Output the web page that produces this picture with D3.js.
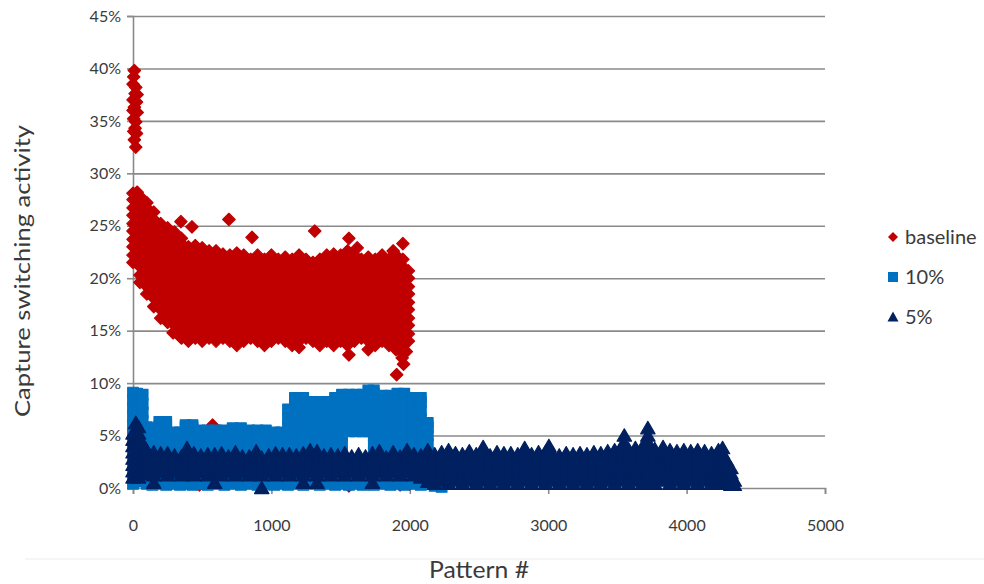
<!DOCTYPE html>
<html>
<head>
<meta charset="utf-8">
<script src="https://cdn.jsdelivr.net/npm/d3@7"></script>
<style>
  body { margin: 0; background: #fff; }
  svg { display: block; }
  text { font-family: Lato, "Open Sans", sans-serif; fill: #3a3a3a; }
</style>
</head>
<body>
<div id="chart"></div>
<script>
// tick labels
const yTicks = [0, 5, 10, 15, 20, 25, 30, 35, 40, 45];
const xTicks = [0, 1000, 2000, 3000, 4000, 5000];
const seriesNames = ["baseline", "10%", "5%"];

// values, one column per pattern # : [x, y1, y2, ...] (y in %)
const baselineCols = [
  [0, 21.5, 22.2, 23.0, 23.7, 24.5, 25.2, 26.0, 26.7, 27.5, 28.1],
  [50, 19.6, 20.3, 21.1, 21.8, 22.6, 23.3, 24.1, 24.8, 25.6, 26.3, 27.1, 27.8],
  [100, 18.5, 19.2, 20.0, 20.7, 21.5, 22.2, 23.0, 23.7, 24.5, 25.2, 26.0, 26.7, 27.2],
  [150, 17.3, 18.1, 18.8, 19.6, 20.3, 21.1, 21.8, 22.6, 23.3, 24.1, 24.8, 25.6, 26.3],
  [200, 16.2, 17.0, 17.7, 18.5, 19.2, 20.0, 20.7, 21.5, 22.2, 23.0, 23.7, 24.5, 25.2],
  [250, 15.8, 16.6, 17.3, 18.1, 18.8, 19.6, 20.3, 21.1, 21.8, 22.6, 23.3, 24.1, 24.8],
  [300, 15.5, 16.2, 17.0, 17.7, 18.5, 19.2, 20.0, 20.7, 21.5, 22.2, 23.0, 23.7, 24.4],
  [350, 14.3, 15.1, 15.8, 16.6, 17.3, 18.1, 18.8, 19.6, 20.3, 21.1, 21.8, 22.6, 23.3, 23.8],
  [400, 14.0, 14.7, 15.5, 16.2, 17.0, 17.7, 18.5, 19.2, 20.0, 20.7, 21.5, 22.2, 23.0],
  [450, 14.3, 15.1, 15.8, 16.6, 17.3, 18.1, 18.8, 19.6, 20.3, 21.1, 21.8, 22.6, 23.1],
  [500, 14.0, 14.7, 15.5, 16.2, 17.0, 17.7, 18.5, 19.2, 20.0, 20.7, 21.5, 22.2, 22.9],
  [550, 14.3, 15.1, 15.8, 16.6, 17.3, 18.1, 18.8, 19.6, 20.3, 21.1, 21.8, 22.6],
  [600, 14.0, 14.7, 15.5, 16.2, 17.0, 17.7, 18.5, 19.2, 20.0, 20.7, 21.5, 22.2, 22.6],
  [650, 14.3, 15.1, 15.8, 16.6, 17.3, 18.1, 18.8, 19.6, 20.3, 21.1, 21.8, 22.3],
  [700, 14.0, 14.7, 15.5, 16.2, 17.0, 17.7, 18.5, 19.2, 20.0, 20.7, 21.5, 22.2],
  [750, 13.6, 14.3, 15.1, 15.8, 16.6, 17.3, 18.1, 18.8, 19.6, 20.3, 21.1, 21.8, 22.4],
  [800, 14.0, 14.7, 15.5, 16.2, 17.0, 17.7, 18.5, 19.2, 20.0, 20.7, 21.5, 22.2],
  [850, 14.3, 15.1, 15.8, 16.6, 17.3, 18.1, 18.8, 19.6, 20.3, 21.1, 21.8],
  [900, 14.0, 14.7, 15.5, 16.2, 17.0, 17.7, 18.5, 19.2, 20.0, 20.7, 21.5, 22.2],
  [950, 13.6, 14.3, 15.1, 15.8, 16.6, 17.3, 18.1, 18.8, 19.6, 20.3, 21.1, 21.8],
  [1000, 14.0, 14.7, 15.5, 16.2, 17.0, 17.7, 18.5, 19.2, 20.0, 20.7, 21.5, 22.2],
  [1050, 14.3, 15.1, 15.8, 16.6, 17.3, 18.1, 18.8, 19.6, 20.3, 21.1, 21.8],
  [1100, 14.0, 14.7, 15.5, 16.2, 17.0, 17.7, 18.5, 19.2, 20.0, 20.7, 21.5, 22.0],
  [1150, 13.6, 14.3, 15.1, 15.8, 16.6, 17.3, 18.1, 18.8, 19.6, 20.3, 21.1, 21.8],
  [1200, 13.4, 14.0, 14.7, 15.5, 16.2, 17.0, 17.7, 18.5, 19.2, 20.0, 20.7, 21.5, 22.2],
  [1250, 14.3, 15.1, 15.8, 16.6, 17.3, 18.1, 18.8, 19.6, 20.3, 21.1, 21.8],
  [1300, 14.0, 14.7, 15.5, 16.2, 17.0, 17.7, 18.5, 19.2, 20.0, 20.7, 21.5],
  [1350, 13.6, 14.3, 15.1, 15.8, 16.6, 17.3, 18.1, 18.8, 19.6, 20.3, 21.1, 21.8],
  [1400, 14.0, 14.7, 15.5, 16.2, 17.0, 17.7, 18.5, 19.2, 20.0, 20.7, 21.5, 22.2],
  [1450, 13.6, 14.3, 15.1, 15.8, 16.6, 17.3, 18.1, 18.8, 19.6, 20.3, 21.1, 21.8, 22.3],
  [1500, 14.0, 14.7, 15.5, 16.2, 17.0, 17.7, 18.5, 19.2, 20.0, 20.7, 21.5, 22.2],
  [1550, 13.6, 14.3, 15.1, 15.8, 16.6, 17.3, 18.1, 18.8, 19.6, 20.3, 21.1, 21.8, 22.6],
  [1600, 14.0, 14.7, 15.5, 16.2, 17.0, 17.7, 18.5, 19.2, 20.0, 20.7, 21.5, 22.2],
  [1650, 14.3, 15.1, 15.8, 16.6, 17.3, 18.1, 18.8, 19.6, 20.3, 21.1, 21.8],
  [1700, 13.2, 14.0, 14.7, 15.5, 16.2, 17.0, 17.7, 18.5, 19.2, 20.0, 20.7, 21.5, 22.0],
  [1750, 13.6, 14.3, 15.1, 15.8, 16.6, 17.3, 18.1, 18.8, 19.6, 20.3, 21.1, 21.8],
  [1800, 14.0, 14.7, 15.5, 16.2, 17.0, 17.7, 18.5, 19.2, 20.0, 20.7, 21.5, 22.2],
  [1850, 13.6, 14.3, 15.1, 15.8, 16.6, 17.3, 18.1, 18.8, 19.6, 20.3, 21.1, 21.8],
  [1900, 13.2, 14.0, 14.7, 15.5, 16.2, 17.0, 17.7, 18.5, 19.2, 20.0, 20.7, 21.5, 22.2],
  [1950, 12.8, 13.6, 14.3, 15.1, 15.8, 16.6, 17.3, 18.1, 18.8, 19.6, 20.3, 21.1, 21.8],
  [1990, 14.0, 14.7, 15.5, 16.2, 17.0, 17.7, 18.5, 19.2, 20.0, 20.7]
];
// first patterns with high activity and scattered outliers
const baselinePoints = [
  [10, 39.8], [5, 39.2], [0, 38.5], [20, 38.2], [15, 37.6], [30, 37.5], [0, 37.0], [25, 36.8],
  [10, 36.3], [0, 36.0], [30, 35.8], [5, 35.2], [20, 34.9], [15, 34.3], [5, 34.0], [25, 33.8],
  [10, 33.2], [20, 32.5], [30, 28.2],
  [346, 25.4], [426, 24.9], [693, 25.6], [860, 23.9], [1313, 24.5], [1560, 23.8], [1620, 22.9],
  [1880, 22.6], [1950, 23.3], [290, 14.8], [1560, 12.7], [1905, 10.8], [1955, 11.8],
  [1945, 12.4], [1975, 13.0],
  [290, 0.6], [480, 0.3], [560, 0.6], [575, 6.0], [1560, 0.2], [1930, 0.3], [2000, 0.4]
];

const tenCols = [
  [0, 0.4, 1.2, 2.0, 2.8, 3.6, 4.4, 5.2, 6.0, 6.8, 7.6, 8.4, 9.1],
  [30, 0.6, 1.4, 2.2, 3.0, 3.8, 4.6, 5.4, 6.2, 7.0, 7.8, 8.6, 9.0],
  [70, 0.8, 1.6, 2.4, 3.2, 4.0, 4.8, 5.6, 6.4, 7.2, 8.0, 8.9],
  [100, 0.4, 1.2, 2.6, 3.4, 4.2, 5.0, 5.8],
  [140, 0.3, 1.1, 2.6, 3.4, 4.2, 5.0, 5.7],
  [190, 0.4, 1.2, 2.6, 3.5, 4.3, 5.1, 5.9, 6.3],
  [240, 0.3, 1.0, 2.6, 3.5, 4.4, 5.2, 6.0, 6.3],
  [290, 0.4, 1.2, 2.6, 3.4, 4.2, 5.0, 5.3],
  [340, 0.3, 1.1, 2.6, 3.4, 4.2, 5.0, 5.3],
  [380, 0.4, 1.2, 2.6, 3.4, 4.2, 5.0, 5.8, 6.0],
  [430, 0.3, 1.0, 2.6, 3.4, 4.2, 5.0, 5.8, 6.0],
  [480, 0.4, 1.2, 2.6, 3.4, 4.2, 5.0, 5.5],
  [540, 0.3, 1.1, 2.6, 3.4, 4.2, 5.0, 5.5],
  [600, 0.4, 1.2, 2.6, 3.4, 4.2, 5.0, 5.5],
  [660, 0.3, 1.0, 2.6, 3.4, 4.2, 5.0, 5.5],
  [720, 0.4, 1.2, 2.6, 3.4, 4.2, 5.0, 5.7],
  [780, 0.3, 1.1, 2.6, 3.4, 4.2, 5.0, 5.7],
  [840, 0.4, 1.2, 2.6, 3.4, 4.2, 5.0, 5.5],
  [900, 0.3, 1.0, 2.6, 3.4, 4.2, 5.0, 5.5],
  [960, 0.4, 1.2, 2.6, 3.4, 4.2, 5.0, 5.5],
  [1020, 0.3, 1.1, 2.6, 3.4, 4.2, 5.0, 5.3],
  [1070, 0.4, 1.2, 2.6, 3.4, 4.2, 5.0, 5.3],
  [1120, 0.3, 1.0, 2.6, 3.4, 4.2, 5.0, 5.8, 6.6, 7.5],
  [1170, 0.4, 1.2, 2.6, 3.4, 4.2, 5.0, 5.8, 6.6, 7.4, 8.2, 8.6],
  [1230, 0.3, 1.1, 2.6, 3.4, 4.2, 5.0, 5.8, 6.6, 7.4, 8.2, 8.6],
  [1290, 0.4, 1.2, 2.6, 3.4, 4.2, 5.0, 5.8, 6.6, 7.4, 8.2],
  [1350, 0.3, 1.0, 2.6, 3.4, 4.2, 5.0, 5.8, 6.6, 7.4, 8.2],
  [1410, 0.4, 1.2, 2.6, 3.4, 4.2, 5.0, 5.8, 6.6, 7.4, 8.2],
  [1460, 0.3, 1.1, 2.6, 3.4, 4.2, 5.0, 5.8, 6.6, 7.4, 8.2, 8.6],
  [1510, 0.4, 1.2, 2.6, 3.4, 4.2, 5.0, 5.8, 6.6, 7.4, 8.2, 8.9],
  [1560, 0.3, 1.0, 2.6, 5.4, 6.2, 7.0, 7.8, 8.6, 8.9],
  [1610, 0.4, 1.2, 2.6, 5.4, 6.2, 7.0, 7.8, 8.6, 8.9],
  [1660, 0.3, 1.1, 2.6, 5.4, 6.2, 7.0, 7.8, 8.6, 8.9],
  [1700, 0.4, 1.2, 2.6, 5.4, 6.2, 7.0, 7.8, 8.6, 9.3],
  [1740, 0.3, 1.0, 2.6, 3.4, 4.2, 5.0, 5.8, 6.6, 7.4, 8.2, 9.0, 9.3],
  [1800, 0.4, 1.2, 2.6, 3.4, 4.2, 5.0, 5.8, 6.6, 7.4, 8.2, 8.8],
  [1860, 0.3, 1.1, 2.6, 3.4, 4.2, 5.0, 5.8, 6.6, 7.4, 8.2, 8.8],
  [1910, 0.4, 1.2, 2.6, 3.4, 4.2, 5.0, 5.8, 6.6, 7.4, 8.2, 9.0],
  [1960, 0.3, 1.0, 2.6, 3.4, 4.2, 5.0, 5.8, 6.6, 7.4, 8.2, 9.0],
  [2020, 0.4, 1.2, 2.6, 3.4, 4.2, 5.0, 5.8, 6.6, 7.4, 8.2, 8.6],
  [2080, 0.3, 1.1, 2.6, 3.4, 4.2, 5.0, 5.8, 6.6, 7.4, 8.2, 8.6],
  [2130, 0.4, 1.2, 2.6, 3.4, 4.2, 5.0, 5.8, 6.2],
  [2180, 0.2, 1.0],
  [2230, 0.1]
];

const fiveCols = [
  [0, 1.0, 1.6, 2.2, 2.8, 3.4, 4.0, 4.6, 5.2],
  [20, 1.3, 1.9, 2.5, 3.1, 3.7, 4.3, 4.9, 5.5, 6.2],
  [40, 1.0, 1.6, 2.2, 2.8, 3.4, 4.0, 4.6, 5.2, 5.8],
  [65, 1.3, 1.9, 2.5, 3.1, 3.7, 4.3],
  [90, 1.5, 2.1, 2.7, 3.3, 3.8],
  [120, 1.4, 2.0, 2.6, 3.1],
  [150, 0.5, 1.2, 1.8, 2.4, 3.0, 3.4],
  [200, 1.5, 2.1, 2.7, 3.3],
  [250, 1.2, 1.8, 2.4, 2.9, 3.3],
  [300, 1.5, 2.1, 2.7, 3.1],
  [350, 1.2, 1.8, 2.4, 3.0],
  [390, 1.5, 2.1, 2.7, 3.4, 3.8],
  [440, 1.2, 1.8, 2.4, 2.9, 3.3],
  [490, 1.5, 2.1, 2.7, 3.1],
  [540, 1.2, 1.8, 2.4, 2.8, 3.2],
  [590, 0.5, 1.5, 2.1, 2.7, 3.2],
  [640, 1.2, 1.8, 2.4, 2.9, 3.3],
  [690, 1.5, 2.1, 2.7, 3.0],
  [740, 1.2, 1.8, 2.4, 3.1, 3.4],
  [790, 1.5, 2.1, 2.7, 3.0],
  [840, 1.2, 1.8, 2.4, 3.0],
  [890, 1.5, 2.1, 2.7, 3.2, 3.5],
  [930, 0.0, 1.2, 1.8, 2.4, 2.9],
  [980, 1.5, 2.1, 2.7, 3.1],
  [1030, 1.2, 1.8, 2.4, 2.9, 3.3],
  [1080, 1.5, 2.1, 2.7, 3.2],
  [1130, 1.2, 1.8, 2.4, 2.8, 3.2],
  [1180, 1.5, 2.1, 2.7, 3.1],
  [1230, 0.5, 1.2, 1.8, 2.4, 3.0, 3.3],
  [1280, 1.5, 2.1, 2.7, 3.3, 3.6],
  [1330, 0.5, 1.2, 1.8, 2.4, 3.0, 3.5],
  [1380, 1.5, 2.1, 2.7, 3.1],
  [1430, 1.2, 1.8, 2.4, 2.8, 3.2],
  [1480, 1.5, 2.1, 2.7, 3.1],
  [1530, 1.2, 1.8, 2.4, 2.9, 3.3],
  [1580, 1.5, 2.1, 2.7, 3.0],
  [1630, 1.2, 1.8, 2.4, 2.9, 3.2],
  [1680, 1.5, 2.1, 2.7, 3.0],
  [1730, 0.5, 1.2, 1.8, 2.4, 3.0, 3.3],
  [1780, 1.5, 2.1, 2.7, 3.1, 3.5],
  [1830, 1.2, 1.8, 2.4, 2.9],
  [1880, 1.5, 2.1, 2.7, 3.1, 3.4],
  [1930, 1.2, 1.8, 2.4, 3.0],
  [1980, 1.5, 2.1, 2.7, 3.2, 3.6],
  [2030, 1.2, 1.8, 2.4, 2.9, 3.2],
  [2080, 1.0, 1.5, 2.1, 2.7, 3.1],
  [2130, 0.6, 1.2, 1.8, 2.4, 3.0, 3.6],
  [2180, 0.4, 1.0, 1.6, 2.2, 2.8, 3.2],
  [2230, 0.7, 1.3, 1.9, 2.5, 3.0, 3.4],
  [2280, 0.4, 1.0, 1.6, 2.2, 2.8, 3.3, 3.6],
  [2330, 0.7, 1.3, 1.9, 2.5, 3.0, 3.3],
  [2380, 0.4, 1.0, 1.6, 2.2, 2.8, 3.2],
  [2430, 0.7, 1.3, 1.9, 2.5, 3.0, 3.5],
  [2480, 0.4, 1.0, 1.6, 2.2, 2.8, 3.2],
  [2530, 0.7, 1.3, 1.9, 2.5, 3.0, 3.5, 3.9],
  [2580, 0.4, 1.0, 1.6, 2.2, 2.7, 3.1],
  [2630, 0.7, 1.3, 1.9, 2.5, 3.1, 3.4],
  [2680, 0.4, 1.0, 1.6, 2.2, 2.8, 3.3],
  [2730, 0.7, 1.3, 1.9, 2.5, 3.0, 3.3],
  [2780, 0.4, 1.0, 1.6, 2.2, 2.7, 3.2],
  [2830, 0.7, 1.3, 1.9, 2.5, 3.0, 3.4, 3.8],
  [2880, 0.4, 1.0, 1.6, 2.2, 2.8, 3.2],
  [2930, 0.7, 1.3, 1.9, 2.5, 3.0, 3.4],
  [2980, 0.4, 1.0, 1.6, 2.2, 2.8, 3.4],
  [3030, 0.7, 1.3, 1.9, 2.5, 3.0, 3.3],
  [3080, 0.4, 1.0, 1.6, 2.2, 2.7, 3.1],
  [3130, 0.7, 1.3, 1.9, 2.5, 3.0, 3.3],
  [3180, 0.4, 1.0, 1.6, 2.2, 2.8, 3.2],
  [3230, 0.7, 1.3, 1.9, 2.5, 2.9, 3.3],
  [3280, 0.4, 1.0, 1.6, 2.2, 2.8, 3.2],
  [3330, 0.7, 1.3, 1.9, 2.5, 3.0, 3.4],
  [3380, 0.4, 1.0, 1.6, 2.2, 2.8, 3.3],
  [3430, 0.7, 1.3, 1.9, 2.5, 3.0, 3.5],
  [3480, 0.4, 1.0, 1.6, 2.2, 2.8, 3.3, 3.6],
  [3530, 0.7, 1.3, 1.9, 2.5, 3.1, 3.6],
  [3580, 0.4, 1.0, 1.6, 2.2, 2.8, 3.3, 3.7],
  [3630, 0.7, 1.3, 1.9, 2.5, 3.1, 3.5, 3.8],
  [3680, 0.4, 1.0, 1.6, 2.2, 2.8, 3.4, 3.9],
  [3720, 0.7, 1.3, 1.9, 2.5, 3.1, 3.7, 4.4, 5.0, 5.7],
  [3770, 0.4, 1.0, 1.6, 2.2, 2.8, 3.3, 3.7],
  [3830, 0.7, 1.3, 1.9, 2.5, 3.1, 3.5, 3.9],
  [3880, 0.4, 1.0, 1.6, 2.2, 2.8, 3.3, 3.6],
  [3930, 0.7, 1.3, 1.9, 2.5, 3.1, 3.5],
  [3980, 0.4, 1.0, 1.6, 2.2, 2.8, 3.3, 3.6],
  [4030, 0.7, 1.3, 1.9, 2.5, 3.1, 3.5],
  [4080, 0.4, 1.0, 1.6, 2.2, 2.8, 3.3, 3.6],
  [4130, 0.7, 1.3, 1.9, 2.5, 3.1, 3.5],
  [4180, 0.4, 1.0, 1.6, 2.2, 2.8, 3.3],
  [4230, 0.7, 1.3, 1.9, 2.5, 3.0, 3.6],
  [4260, 0.4, 1.0, 1.6, 2.2, 2.8, 3.3, 3.8],
  [4290, 0.4, 1.0, 1.6, 2.1, 2.6],
  [4320, 0.3, 0.9, 1.4, 1.9],
  [4345, 0.3, 0.7]
];
const fivePoints = [[3550, 5.0], [3545, 4.3], [3005, 4.0], [3000, 3.5]];

const toPoints = cols => cols.flatMap(c => c.slice(1).map(v => [c[0], v]));

const W = 984, H = 584;
const svg = d3.select("#chart").append("svg")
  .attr("width", W)
  .attr("height", H);

const x = d3.scaleLinear().domain([0, 5000]).range([133, 825]);
const y = d3.scaleLinear().domain([0, 45]).range([488, 16]);

// gridlines
svg.append("g")
  .attr("transform", "translate(133,0)")
  .call(d3.axisLeft(y).tickValues(yTicks.slice(1)).tickSize(-(825 - 133)).tickFormat(""))
  .call(g => g.select(".domain").remove())
  .call(g => g.selectAll("line").attr("stroke", "#8a8a8a").attr("stroke-width", 1.6));

// y axis
svg.append("g")
  .attr("transform", "translate(133,0)")
  .call(d3.axisLeft(y).tickValues(yTicks).tickSize(6).tickPadding(6).tickFormat(d => d + "%"))
  .call(g => g.select(".domain").attr("stroke", "#8a8a8a").attr("stroke-width", 1.6))
  .call(g => g.selectAll("line").attr("stroke", "#8a8a8a").attr("stroke-width", 1.6))
  .call(g => g.selectAll("text").attr("font-size", 16).attr("font-family", "Lato").attr("fill", "#3a3a3a"));

// x axis
svg.append("g")
  .attr("transform", "translate(0,488)")
  .call(d3.axisBottom(x).tickValues(xTicks).tickSize(6).tickPadding(26).tickFormat(d3.format("d")))
  .call(g => g.select(".domain").attr("stroke", "#8a8a8a").attr("stroke-width", 1.6))
  .call(g => g.selectAll("line").attr("stroke", "#8a8a8a").attr("stroke-width", 1.6))
  .call(g => g.selectAll("text").attr("font-size", 16).attr("font-family", "Lato").attr("fill", "#3a3a3a"));

// marker shapes (Excel style, filled with a thin border of the same colour)
const shapes = {
  diamond: "M0,-6.2L6.2,0L0,6.2L-6.2,0Z",
  square: "M-5.3,-5.3h10.6v10.6h-10.6Z",
  triangle: "M0,-6.8L7.2,5.6L-7.2,5.6Z"
};
const series = [
  { name: seriesNames[0], pts: toPoints(baselineCols).concat(baselinePoints), shape: shapes.diamond, color: "#c00000" },
  { name: seriesNames[1], pts: toPoints(tenCols), shape: shapes.square, color: "#0070c0" },
  { name: seriesNames[2], pts: toPoints(fiveCols).concat(fivePoints), shape: shapes.triangle, color: "#002060" }
];

series.forEach(s => {
  svg.append("g")
    .selectAll("path")
    .data(s.pts)
    .enter()
    .append("path")
    .attr("d", s.shape)
    .attr("transform", d => "translate(" + x(d[0]) + "," + y(d[1]) + ")")
    .attr("fill", s.color)
    .attr("stroke", s.color)
    .attr("stroke-width", 1.2)
    .attr("stroke-linejoin", "round");
});

// legend
const legendShapes = [
  "M0,-5L5,0L0,5L-5,0Z",
  "M-5,-5h10v10h-10Z",
  "M0,-5.5L5.5,4.5L-5.5,4.5Z"
];
const legend = svg.append("g");
series.forEach((s, i) => {
  const ly = 237 + i * 40;
  legend.append("path")
    .attr("d", legendShapes[i])
    .attr("transform", "translate(893," + ly + ")")
    .attr("fill", s.color);
  legend.append("text")
    .attr("x", 905)
    .attr("y", ly + 6.5)
    .attr("font-size", 20)
    .text(s.name);
});

// axis titles
svg.append("text")
  .attr("transform", "translate(30,271) rotate(-90)")
  .attr("text-anchor", "middle")
  .attr("font-size", 22)
  .attr("textLength", 292)
  .attr("lengthAdjust", "spacingAndGlyphs")
  .text("Capture switching activity");

svg.append("text")
  .attr("x", 479)
  .attr("y", 578)
  .attr("text-anchor", "middle")
  .attr("font-size", 23)
  .attr("textLength", 100)
  .attr("lengthAdjust", "spacingAndGlyphs")
  .text("Pattern #");

// faint frame line below the axis labels
svg.append("line")
  .attr("x1", 25).attr("x2", W)
  .attr("y1", 559).attr("y2", 559)
  .attr("stroke", "#ececec");
</script>
</body>
</html>
